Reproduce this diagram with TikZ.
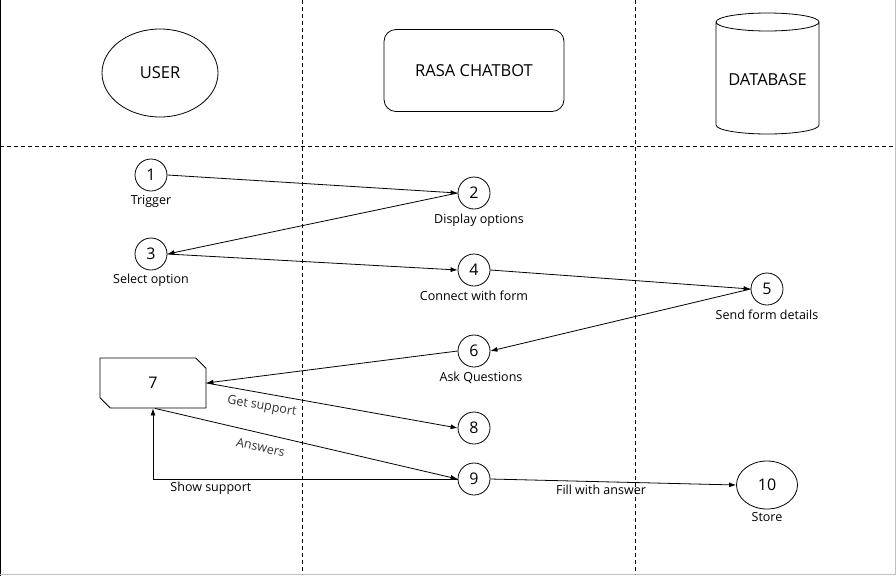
\documentclass[tikz,border=0pt]{standalone}
\usepackage{fontspec}
\setmainfont{Open Sans}
\usetikzlibrary{positioning, shapes.geometric, shapes.misc, arrows.meta}

\begin{document}
\begin{tikzpicture}[x=1pt, y=-1pt, line width=0.8pt,
	num/.style={circle, draw, minimum size=32pt, inner sep=0pt, font=\fontsize{16}{18}\selectfont},
	lbl/.style={inner sep=1pt, font=\fontsize{12.5}{14}\selectfont},
	flow/.style={-{Latex[length=7pt,width=5pt]}},
	lane/.style={dash pattern=on 4pt off 3pt}]
	\useasboundingbox (0,0) rectangle (896,576);
	
	% frame and lanes
	\draw (0.5,0) -- (0.5,576);
	\draw[black!25] (895,0) -- (895,574.5) -- (0,574.5);
	\draw[lane] (0,146) -- (896,146);
	\draw[lane] (302,0) -- (302,574);
	\draw[lane] (635,0) -- (635,574);
	
	% heads
	\node[ellipse, draw, minimum width=116pt, minimum height=88pt, font=\fontsize{16.5}{19}\selectfont] (user) at (160,73) {USER};
	\node[rectangle, draw, rounded corners=12pt, minimum width=180pt, minimum height=82pt, font=\fontsize{16.5}{19}\selectfont] (rasa) at (474,70.5) {RASA CHATBOT};
	\node[cylinder, shape border rotate=90, draw, aspect=2.7, minimum width=103pt, minimum height=121pt, anchor=shape center] (db) at (767.5,73.5) {};
	\node[font=\fontsize{16.5}{19}\selectfont] (dbname) at ([yshift=-6.5pt]db.shape center) {DATABASE};
	
	% steps
	\node[num] (n1) at (151,175) {1};
	\node[lbl, below=3pt of n1] (t1) {Trigger};
	\node[num] (n2) at (474,193) {2};
	\node[lbl, below=3pt of n2, xshift=5pt] (t2) {Display options};
	\node[num] (n3) at (151,254) {3};
	\node[lbl, below=2pt of n3] (t3) {Select option};
	\node[num] (n4) at (474,270) {4};
	\node[lbl, below=3pt of n4] (t4) {Connect with form};
	\node[num] (n5) at (767,289) {5};
	\node[lbl, below=3pt of n5] (t5) {Send form details};
	\node[num] (n6) at (474,351) {6};
	\node[lbl, below=3pt of n6, xshift=7pt] (t6) {Ask Questions};
	\node[chamfered rectangle, chamfered rectangle corners={north east, south west}, chamfered rectangle xsep=7pt, chamfered rectangle ysep=7pt, draw, minimum width=106pt, minimum height=50pt, inner sep=0pt, font=\fontsize{16}{18}\selectfont] (n7) at (153,383) {7};
	\node[num] (n8) at (474,428) {8};
	\node[num] (n9) at (474,479) {9};
	\node[ellipse, draw, minimum width=61pt, minimum height=48pt, inner sep=0pt, font=\fontsize{16}{18}\selectfont] (n10) at (767,485) {10};
	\node[lbl, below=2pt of n10] (t10) {Store};
	
	% messages
	\draw[flow] (n1.east) -- (n2.west);
	\draw[flow] (n2.west) -- (n3.east);
	\draw[flow] (n3.east) -- (n4.west);
	\draw[flow] (n4.east) -- (n5.west);
	\draw[flow] (n5.west) -- (n6.east);
	\draw[flow] (n6.west) -- (n7.east);
	\draw[flow] (n7.east) -- node[lbl, sloped, below=6pt, pos=0.23, text=black!80] {Get support} (n8.west);
	\draw[flow] ([xshift=2pt]n7.south) -- node[lbl, sloped, below=8pt, pos=0.36, text=black!80] {Answers} (n9.west);
	\draw[flow] (n9.west) -- node[lbl, below=2pt, pos=0.81] {Show support} (n7.south |- n9.west) -- (n7.south);
	\draw[flow] (n9.east) -- node[lbl, below=2pt, pos=0.45] {Fill with answer} (n10.west);
\end{tikzpicture}
\end{document}
